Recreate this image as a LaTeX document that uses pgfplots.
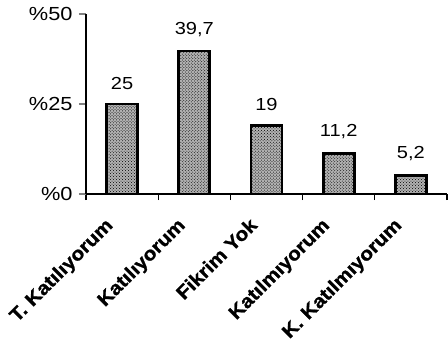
\documentclass[border=0pt]{standalone}
\usepackage{pgfplots}
\pgfplotsset{compat=1.18}
\usetikzlibrary{patterns}
\usepackage{fontspec}
\setmainfont[FakeStretch=1.15]{Liberation Sans}
\newfontfamily\heavy{Liberation Sans Bold}[FakeBold=1.2, FakeStretch=1.1]

\begin{document}
\begin{tikzpicture}
\begin{axis}[
  at={(0,0)}, anchor=south west,
  scale only axis,
  width=361bp, height=180bp,
  xmin=-0.5, xmax=4.5,
  ymin=0, ymax=50,
  axis lines*=left,
  axis line style={line width=1.3pt},
  ytick={0,25,50},
  yticklabels={\%0,\%25,\%50},
  xtick={0,1,2,3,4},
  xticklabels={T. Katılıyorum, Katılıyorum, Fikrim Yok, Katılmıyorum, K. Katılmıyorum},
  minor xtick={-0.5,0.5,1.5,2.5,3.5,4.5},
  tick align=outside,
  x tick style={draw=none},
  minor x tick style={draw=black, line width=1.1pt},
  minor tick length=6bp,
  y tick style={line width=1.1pt},
  major tick length=7bp,
  yticklabel style={font=\fontsize{19}{20}\selectfont, xshift=-3bp},
  xticklabel style={font=\fontsize{19}{21}\heavy, xshift=-18bp, yshift=-14bp, rotate=45, anchor=north east, inner sep=1bp},
  ybar, bar width=31bp,
  nodes near coords,
  point meta=explicit symbolic,
  every node near coord/.append style={font=\fontsize{17.5}{19}\selectfont, yshift=10bp},
  clip=false,
]
\addplot[draw=black, line width=2.8pt, fill=gray!60, postaction={pattern=crosshatch dots, pattern color=black}]
  table[meta=lbl] {
    x y lbl
    0 25 25
    1 39.7 39,7
    2 19 19
    3 11.2 11,2
    4 5.2 5,2
  };
\end{axis}
\pgfresetboundingbox
\path (-86bp,-150bp) rectangle (362bp,194bp);
\end{tikzpicture}
\end{document}
